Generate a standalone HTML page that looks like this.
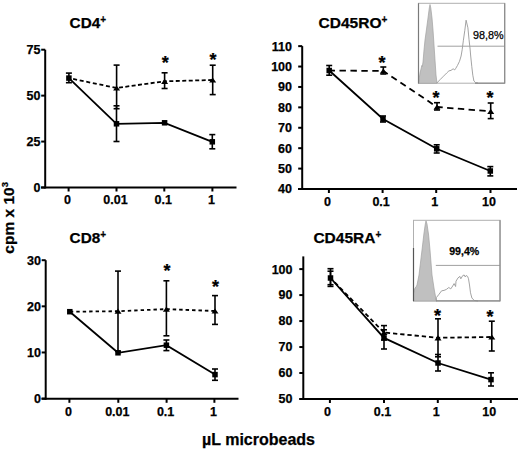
<!DOCTYPE html><html><head><meta charset="utf-8"><style>html,body{margin:0;padding:0;background:#fff;}svg{display:block;}text{font-family:"Liberation Sans",sans-serif;fill:#000;stroke:#000;stroke-width:0.25px;}</style></head><body>
<svg width="520" height="450" viewBox="0 0 520 450">
<rect width="520" height="450" fill="#fff"/>
<line x1="45.20" y1="49.70" x2="45.20" y2="188.50" stroke="#000" stroke-width="2"/>
<line x1="41.00" y1="187.50" x2="236.50" y2="187.50" stroke="#000" stroke-width="2"/>
<line x1="41.20" y1="187.50" x2="45.20" y2="187.50" stroke="#000" stroke-width="2"/>
<text x="40.50" y="191.90" font-size="12.5" text-anchor="end" font-weight="bold">0</text>
<line x1="41.20" y1="141.57" x2="45.20" y2="141.57" stroke="#000" stroke-width="2"/>
<text x="40.50" y="145.97" font-size="12.5" text-anchor="end" font-weight="bold">25</text>
<line x1="41.20" y1="95.63" x2="45.20" y2="95.63" stroke="#000" stroke-width="2"/>
<text x="40.50" y="100.03" font-size="12.5" text-anchor="end" font-weight="bold">50</text>
<line x1="41.20" y1="49.70" x2="45.20" y2="49.70" stroke="#000" stroke-width="2"/>
<text x="40.50" y="54.10" font-size="12.5" text-anchor="end" font-weight="bold">75</text>
<line x1="68.60" y1="187.50" x2="68.60" y2="191.50" stroke="#000" stroke-width="2"/>
<text x="67.60" y="204.00" font-size="12.5" text-anchor="middle" font-weight="bold">0</text>
<line x1="116.50" y1="187.50" x2="116.50" y2="191.50" stroke="#000" stroke-width="2"/>
<text x="115.50" y="204.00" font-size="12.5" text-anchor="middle" font-weight="bold">0.01</text>
<line x1="164.30" y1="187.50" x2="164.30" y2="191.50" stroke="#000" stroke-width="2"/>
<text x="163.30" y="204.00" font-size="12.5" text-anchor="middle" font-weight="bold">0.1</text>
<line x1="212.40" y1="187.50" x2="212.40" y2="191.50" stroke="#000" stroke-width="2"/>
<text x="211.40" y="204.00" font-size="12.5" text-anchor="middle" font-weight="bold">1</text>
<text x="69.60" y="27.60" font-size="15.3" text-anchor="start" font-weight="bold">CD4<tspan font-size="10" dy="-4.6">+</tspan></text>
<line x1="68.90" y1="78.10" x2="116.60" y2="88.00" stroke="#000" stroke-width="1.8" stroke-dasharray="4.0 2.70" stroke-dashoffset="2.37"/>
<line x1="116.60" y1="88.00" x2="164.60" y2="81.30" stroke="#000" stroke-width="1.8" stroke-dasharray="4.0 2.40" stroke-dashoffset="4.01"/>
<line x1="164.60" y1="81.30" x2="212.70" y2="80.00" stroke="#000" stroke-width="1.8" stroke-dasharray="4.0 2.48" stroke-dashoffset="1.78"/>
<polyline points="68.90,78.10 116.50,123.80 164.60,122.80 212.30,141.80" fill="none" stroke="#000" stroke-width="1.8"/>
<line x1="116.60" y1="65.10" x2="116.60" y2="108.70" stroke="#000" stroke-width="1.6"/>
<line x1="113.60" y1="65.10" x2="119.60" y2="65.10" stroke="#000" stroke-width="1.6"/>
<line x1="113.60" y1="108.70" x2="119.60" y2="108.70" stroke="#000" stroke-width="1.6"/>
<line x1="164.60" y1="72.80" x2="164.60" y2="88.50" stroke="#000" stroke-width="1.6"/>
<line x1="161.60" y1="72.80" x2="167.60" y2="72.80" stroke="#000" stroke-width="1.6"/>
<line x1="161.60" y1="88.50" x2="167.60" y2="88.50" stroke="#000" stroke-width="1.6"/>
<line x1="212.70" y1="65.20" x2="212.70" y2="94.60" stroke="#000" stroke-width="1.6"/>
<line x1="209.70" y1="65.20" x2="215.70" y2="65.20" stroke="#000" stroke-width="1.6"/>
<line x1="209.70" y1="94.60" x2="215.70" y2="94.60" stroke="#000" stroke-width="1.6"/>
<line x1="116.50" y1="105.80" x2="116.50" y2="141.50" stroke="#000" stroke-width="1.6"/>
<line x1="113.50" y1="105.80" x2="119.50" y2="105.80" stroke="#000" stroke-width="1.6"/>
<line x1="113.50" y1="141.50" x2="119.50" y2="141.50" stroke="#000" stroke-width="1.6"/>
<line x1="212.30" y1="134.60" x2="212.30" y2="148.80" stroke="#000" stroke-width="1.6"/>
<line x1="209.30" y1="134.60" x2="215.30" y2="134.60" stroke="#000" stroke-width="1.6"/>
<line x1="209.30" y1="148.80" x2="215.30" y2="148.80" stroke="#000" stroke-width="1.6"/>
<line x1="68.90" y1="73.10" x2="68.90" y2="82.70" stroke="#000" stroke-width="1.6"/>
<line x1="65.90" y1="73.10" x2="71.90" y2="73.10" stroke="#000" stroke-width="1.6"/>
<line x1="65.90" y1="82.70" x2="71.90" y2="82.70" stroke="#000" stroke-width="1.6"/>
<polygon points="113.10,90.60 120.10,90.60 116.60,85.40" fill="#000"/>
<polygon points="161.10,83.90 168.10,83.90 164.60,78.70" fill="#000"/>
<polygon points="209.20,82.60 216.20,82.60 212.70,77.40" fill="#000"/>
<rect x="66.15" y="75.35" width="5.5" height="5.5" fill="#000"/>
<rect x="113.75" y="121.05" width="5.5" height="5.5" fill="#000"/>
<rect x="161.85" y="120.05" width="5.5" height="5.5" fill="#000"/>
<rect x="209.55" y="139.05" width="5.5" height="5.5" fill="#000"/>
<text x="165.30" y="69.34" font-size="18" text-anchor="middle" font-weight="bold">*</text>
<text x="213.10" y="65.54" font-size="18" text-anchor="middle" font-weight="bold">*</text>
<line x1="302.20" y1="46.10" x2="302.20" y2="190.00" stroke="#000" stroke-width="2"/>
<line x1="298.00" y1="189.00" x2="517.00" y2="189.00" stroke="#000" stroke-width="2"/>
<line x1="298.20" y1="189.00" x2="302.20" y2="189.00" stroke="#000" stroke-width="2"/>
<text x="292.00" y="193.40" font-size="12.5" text-anchor="end" font-weight="bold">40</text>
<line x1="298.20" y1="168.59" x2="302.20" y2="168.59" stroke="#000" stroke-width="2"/>
<text x="292.00" y="172.99" font-size="12.5" text-anchor="end" font-weight="bold">50</text>
<line x1="298.20" y1="148.18" x2="302.20" y2="148.18" stroke="#000" stroke-width="2"/>
<text x="292.00" y="152.58" font-size="12.5" text-anchor="end" font-weight="bold">60</text>
<line x1="298.20" y1="127.77" x2="302.20" y2="127.77" stroke="#000" stroke-width="2"/>
<text x="292.00" y="132.17" font-size="12.5" text-anchor="end" font-weight="bold">70</text>
<line x1="298.20" y1="107.36" x2="302.20" y2="107.36" stroke="#000" stroke-width="2"/>
<text x="292.00" y="111.76" font-size="12.5" text-anchor="end" font-weight="bold">80</text>
<line x1="298.20" y1="86.95" x2="302.20" y2="86.95" stroke="#000" stroke-width="2"/>
<text x="292.00" y="91.35" font-size="12.5" text-anchor="end" font-weight="bold">90</text>
<line x1="298.20" y1="66.54" x2="302.20" y2="66.54" stroke="#000" stroke-width="2"/>
<text x="292.00" y="70.94" font-size="12.5" text-anchor="end" font-weight="bold">100</text>
<line x1="298.20" y1="46.13" x2="302.20" y2="46.13" stroke="#000" stroke-width="2"/>
<text x="292.00" y="50.53" font-size="12.5" text-anchor="end" font-weight="bold">110</text>
<line x1="328.90" y1="189.00" x2="328.90" y2="193.00" stroke="#000" stroke-width="2"/>
<text x="327.40" y="205.50" font-size="12.5" text-anchor="middle" font-weight="bold">0</text>
<line x1="382.60" y1="189.00" x2="382.60" y2="193.00" stroke="#000" stroke-width="2"/>
<text x="381.10" y="205.50" font-size="12.5" text-anchor="middle" font-weight="bold">0.1</text>
<line x1="436.20" y1="189.00" x2="436.20" y2="193.00" stroke="#000" stroke-width="2"/>
<text x="434.70" y="205.50" font-size="12.5" text-anchor="middle" font-weight="bold">1</text>
<line x1="490.50" y1="189.00" x2="490.50" y2="193.00" stroke="#000" stroke-width="2"/>
<text x="489.00" y="205.50" font-size="12.5" text-anchor="middle" font-weight="bold">10</text>
<text x="318.60" y="28.00" font-size="15.5" text-anchor="start" font-weight="bold">CD45RO<tspan font-size="10" dy="-4.6">+</tspan></text>
<line x1="329.20" y1="70.50" x2="383.30" y2="71.00" stroke="#000" stroke-width="1.8" stroke-dasharray="6.4 4.53" stroke-dashoffset="0.63"/>
<line x1="383.30" y1="71.00" x2="437.00" y2="107.00" stroke="#000" stroke-width="1.8" stroke-dasharray="6.4 4.45" stroke-dashoffset="1.10"/>
<line x1="437.00" y1="107.00" x2="490.70" y2="111.30" stroke="#000" stroke-width="1.8" stroke-dasharray="6.4 4.37" stroke-dashoffset="0.64"/>
<polyline points="329.20,70.50 383.00,119.00 436.70,148.80 490.30,171.00" fill="none" stroke="#000" stroke-width="1.8"/>
<line x1="329.20" y1="65.50" x2="329.20" y2="75.20" stroke="#000" stroke-width="1.6"/>
<line x1="326.20" y1="65.50" x2="332.20" y2="65.50" stroke="#000" stroke-width="1.6"/>
<line x1="326.20" y1="75.20" x2="332.20" y2="75.20" stroke="#000" stroke-width="1.6"/>
<line x1="383.30" y1="67.00" x2="383.30" y2="74.00" stroke="#000" stroke-width="1.6"/>
<line x1="380.30" y1="67.00" x2="386.30" y2="67.00" stroke="#000" stroke-width="1.6"/>
<line x1="380.30" y1="74.00" x2="386.30" y2="74.00" stroke="#000" stroke-width="1.6"/>
<line x1="437.00" y1="102.70" x2="437.00" y2="110.00" stroke="#000" stroke-width="1.6"/>
<line x1="434.00" y1="102.70" x2="440.00" y2="102.70" stroke="#000" stroke-width="1.6"/>
<line x1="434.00" y1="110.00" x2="440.00" y2="110.00" stroke="#000" stroke-width="1.6"/>
<line x1="490.70" y1="103.00" x2="490.70" y2="118.60" stroke="#000" stroke-width="1.6"/>
<line x1="487.70" y1="103.00" x2="493.70" y2="103.00" stroke="#000" stroke-width="1.6"/>
<line x1="487.70" y1="118.60" x2="493.70" y2="118.60" stroke="#000" stroke-width="1.6"/>
<line x1="383.00" y1="116.00" x2="383.00" y2="122.00" stroke="#000" stroke-width="1.6"/>
<line x1="380.00" y1="116.00" x2="386.00" y2="116.00" stroke="#000" stroke-width="1.6"/>
<line x1="380.00" y1="122.00" x2="386.00" y2="122.00" stroke="#000" stroke-width="1.6"/>
<line x1="436.70" y1="144.80" x2="436.70" y2="153.00" stroke="#000" stroke-width="1.6"/>
<line x1="433.70" y1="144.80" x2="439.70" y2="144.80" stroke="#000" stroke-width="1.6"/>
<line x1="433.70" y1="153.00" x2="439.70" y2="153.00" stroke="#000" stroke-width="1.6"/>
<line x1="490.30" y1="166.60" x2="490.30" y2="175.90" stroke="#000" stroke-width="1.6"/>
<line x1="487.30" y1="166.60" x2="493.30" y2="166.60" stroke="#000" stroke-width="1.6"/>
<line x1="487.30" y1="175.90" x2="493.30" y2="175.90" stroke="#000" stroke-width="1.6"/>
<polygon points="379.80,73.60 386.80,73.60 383.30,68.40" fill="#000"/>
<polygon points="433.50,109.60 440.50,109.60 437.00,104.40" fill="#000"/>
<polygon points="487.20,113.90 494.20,113.90 490.70,108.70" fill="#000"/>
<rect x="326.45" y="67.75" width="5.5" height="5.5" fill="#000"/>
<rect x="380.25" y="116.25" width="5.5" height="5.5" fill="#000"/>
<rect x="433.95" y="146.05" width="5.5" height="5.5" fill="#000"/>
<rect x="487.55" y="168.25" width="5.5" height="5.5" fill="#000"/>
<text x="382.00" y="69.04" font-size="18" text-anchor="middle" font-weight="bold">*</text>
<text x="436.00" y="103.54" font-size="18" text-anchor="middle" font-weight="bold">*</text>
<text x="490.00" y="104.04" font-size="18" text-anchor="middle" font-weight="bold">*</text>
<line x1="45.70" y1="260.20" x2="45.70" y2="399.80" stroke="#000" stroke-width="2"/>
<line x1="41.50" y1="398.80" x2="238.50" y2="398.80" stroke="#000" stroke-width="2"/>
<line x1="41.70" y1="398.60" x2="45.70" y2="398.60" stroke="#000" stroke-width="2"/>
<text x="41.00" y="403.00" font-size="12.5" text-anchor="end" font-weight="bold">0</text>
<line x1="41.70" y1="352.47" x2="45.70" y2="352.47" stroke="#000" stroke-width="2"/>
<text x="41.00" y="356.87" font-size="12.5" text-anchor="end" font-weight="bold">10</text>
<line x1="41.70" y1="306.33" x2="45.70" y2="306.33" stroke="#000" stroke-width="2"/>
<text x="41.00" y="310.73" font-size="12.5" text-anchor="end" font-weight="bold">20</text>
<line x1="41.70" y1="260.20" x2="45.70" y2="260.20" stroke="#000" stroke-width="2"/>
<text x="41.00" y="264.60" font-size="12.5" text-anchor="end" font-weight="bold">30</text>
<line x1="69.40" y1="398.80" x2="69.40" y2="402.80" stroke="#000" stroke-width="2"/>
<text x="68.40" y="415.70" font-size="12.5" text-anchor="middle" font-weight="bold">0</text>
<line x1="118.30" y1="398.80" x2="118.30" y2="402.80" stroke="#000" stroke-width="2"/>
<text x="117.30" y="415.70" font-size="12.5" text-anchor="middle" font-weight="bold">0.01</text>
<line x1="166.60" y1="398.80" x2="166.60" y2="402.80" stroke="#000" stroke-width="2"/>
<text x="165.60" y="415.70" font-size="12.5" text-anchor="middle" font-weight="bold">0.1</text>
<line x1="214.40" y1="398.80" x2="214.40" y2="402.80" stroke="#000" stroke-width="2"/>
<text x="213.40" y="415.70" font-size="12.5" text-anchor="middle" font-weight="bold">1</text>
<text x="69.60" y="242.70" font-size="15.3" text-anchor="start" font-weight="bold">CD8<tspan font-size="10" dy="-4.6">+</tspan></text>
<line x1="69.80" y1="311.70" x2="118.00" y2="311.20" stroke="#000" stroke-width="1.8" stroke-dasharray="3.4 3.04" stroke-dashoffset="6.38"/>
<line x1="118.00" y1="311.20" x2="166.40" y2="309.10" stroke="#000" stroke-width="1.8" stroke-dasharray="3.4 3.02" stroke-dashoffset="3.02"/>
<line x1="166.40" y1="309.10" x2="215.00" y2="311.00" stroke="#000" stroke-width="1.8" stroke-dasharray="3.5 2.94" stroke-dashoffset="0.14"/>
<polyline points="69.80,311.70 118.00,352.80 166.40,345.20 215.00,374.60" fill="none" stroke="#000" stroke-width="1.8"/>
<line x1="118.00" y1="271.10" x2="118.00" y2="351.30" stroke="#000" stroke-width="1.6"/>
<line x1="115.00" y1="271.10" x2="121.00" y2="271.10" stroke="#000" stroke-width="1.6"/>
<line x1="115.00" y1="351.30" x2="121.00" y2="351.30" stroke="#000" stroke-width="1.6"/>
<line x1="166.40" y1="280.80" x2="166.40" y2="335.80" stroke="#000" stroke-width="1.6"/>
<line x1="163.40" y1="280.80" x2="169.40" y2="280.80" stroke="#000" stroke-width="1.6"/>
<line x1="163.40" y1="335.80" x2="169.40" y2="335.80" stroke="#000" stroke-width="1.6"/>
<line x1="215.00" y1="295.60" x2="215.00" y2="324.40" stroke="#000" stroke-width="1.6"/>
<line x1="212.00" y1="295.60" x2="218.00" y2="295.60" stroke="#000" stroke-width="1.6"/>
<line x1="212.00" y1="324.40" x2="218.00" y2="324.40" stroke="#000" stroke-width="1.6"/>
<line x1="166.40" y1="340.00" x2="166.40" y2="350.60" stroke="#000" stroke-width="1.6"/>
<line x1="163.40" y1="340.00" x2="169.40" y2="340.00" stroke="#000" stroke-width="1.6"/>
<line x1="163.40" y1="350.60" x2="169.40" y2="350.60" stroke="#000" stroke-width="1.6"/>
<line x1="215.00" y1="369.00" x2="215.00" y2="380.30" stroke="#000" stroke-width="1.6"/>
<line x1="212.00" y1="369.00" x2="218.00" y2="369.00" stroke="#000" stroke-width="1.6"/>
<line x1="212.00" y1="380.30" x2="218.00" y2="380.30" stroke="#000" stroke-width="1.6"/>
<polygon points="114.50,313.80 121.50,313.80 118.00,308.60" fill="#000"/>
<polygon points="162.90,311.70 169.90,311.70 166.40,306.50" fill="#000"/>
<polygon points="211.50,313.60 218.50,313.60 215.00,308.40" fill="#000"/>
<rect x="67.05" y="308.95" width="5.5" height="5.5" fill="#000"/>
<rect x="115.25" y="350.05" width="5.5" height="5.5" fill="#000"/>
<rect x="163.65" y="342.45" width="5.5" height="5.5" fill="#000"/>
<rect x="212.25" y="371.85" width="5.5" height="5.5" fill="#000"/>
<text x="167.00" y="277.34" font-size="18" text-anchor="middle" font-weight="bold">*</text>
<text x="215.50" y="292.64" font-size="18" text-anchor="middle" font-weight="bold">*</text>
<line x1="303.30" y1="256.40" x2="303.30" y2="400.00" stroke="#000" stroke-width="2"/>
<line x1="299.50" y1="399.00" x2="518.00" y2="399.00" stroke="#000" stroke-width="2"/>
<line x1="299.30" y1="399.00" x2="303.30" y2="399.00" stroke="#000" stroke-width="2"/>
<text x="292.50" y="403.40" font-size="12.5" text-anchor="end" font-weight="bold">50</text>
<line x1="299.30" y1="373.02" x2="303.30" y2="373.02" stroke="#000" stroke-width="2"/>
<text x="292.50" y="377.42" font-size="12.5" text-anchor="end" font-weight="bold">60</text>
<line x1="299.30" y1="347.04" x2="303.30" y2="347.04" stroke="#000" stroke-width="2"/>
<text x="292.50" y="351.44" font-size="12.5" text-anchor="end" font-weight="bold">70</text>
<line x1="299.30" y1="321.06" x2="303.30" y2="321.06" stroke="#000" stroke-width="2"/>
<text x="292.50" y="325.46" font-size="12.5" text-anchor="end" font-weight="bold">80</text>
<line x1="299.30" y1="295.08" x2="303.30" y2="295.08" stroke="#000" stroke-width="2"/>
<text x="292.50" y="299.48" font-size="12.5" text-anchor="end" font-weight="bold">90</text>
<line x1="299.30" y1="269.10" x2="303.30" y2="269.10" stroke="#000" stroke-width="2"/>
<text x="292.50" y="273.50" font-size="12.5" text-anchor="end" font-weight="bold">100</text>
<line x1="329.90" y1="399.00" x2="329.90" y2="403.00" stroke="#000" stroke-width="2"/>
<text x="327.60" y="416.20" font-size="12.5" text-anchor="middle" font-weight="bold">0</text>
<line x1="384.00" y1="399.00" x2="384.00" y2="403.00" stroke="#000" stroke-width="2"/>
<text x="382.50" y="416.20" font-size="12.5" text-anchor="middle" font-weight="bold">0.1</text>
<line x1="437.80" y1="399.00" x2="437.80" y2="403.00" stroke="#000" stroke-width="2"/>
<text x="436.30" y="416.20" font-size="12.5" text-anchor="middle" font-weight="bold">1</text>
<line x1="490.80" y1="399.00" x2="490.80" y2="403.00" stroke="#000" stroke-width="2"/>
<text x="489.30" y="416.20" font-size="12.5" text-anchor="middle" font-weight="bold">10</text>
<text x="313.40" y="242.90" font-size="15.5" text-anchor="start" font-weight="bold">CD45RA<tspan font-size="10" dy="-4.6">+</tspan></text>
<line x1="330.50" y1="278.00" x2="384.00" y2="332.50" stroke="#000" stroke-width="1.8" stroke-dasharray="4.3 3.00" stroke-dashoffset="1.20"/>
<line x1="384.00" y1="332.50" x2="438.00" y2="337.80" stroke="#000" stroke-width="1.8" stroke-dasharray="4.3 2.93" stroke-dashoffset="5.41"/>
<line x1="438.00" y1="337.80" x2="491.80" y2="337.00" stroke="#000" stroke-width="1.8" stroke-dasharray="4.3 2.88" stroke-dashoffset="2.08"/>
<polyline points="330.50,278.00 384.00,337.90 438.00,363.00 491.00,379.60" fill="none" stroke="#000" stroke-width="1.8"/>
<line x1="330.50" y1="268.70" x2="330.50" y2="286.40" stroke="#000" stroke-width="1.6"/>
<line x1="327.50" y1="268.70" x2="333.50" y2="268.70" stroke="#000" stroke-width="1.6"/>
<line x1="327.50" y1="286.40" x2="333.50" y2="286.40" stroke="#000" stroke-width="1.6"/>
<line x1="330.50" y1="271.20" x2="330.50" y2="284.70" stroke="#000" stroke-width="1.6"/>
<line x1="327.50" y1="271.20" x2="333.50" y2="271.20" stroke="#000" stroke-width="1.6"/>
<line x1="327.50" y1="284.70" x2="333.50" y2="284.70" stroke="#000" stroke-width="1.6"/>
<line x1="384.00" y1="325.60" x2="384.00" y2="340.00" stroke="#000" stroke-width="1.6"/>
<line x1="381.00" y1="325.60" x2="387.00" y2="325.60" stroke="#000" stroke-width="1.6"/>
<line x1="381.00" y1="340.00" x2="387.00" y2="340.00" stroke="#000" stroke-width="1.6"/>
<line x1="384.00" y1="329.80" x2="384.00" y2="349.00" stroke="#000" stroke-width="1.6"/>
<line x1="381.00" y1="329.80" x2="387.00" y2="329.80" stroke="#000" stroke-width="1.6"/>
<line x1="381.00" y1="349.00" x2="387.00" y2="349.00" stroke="#000" stroke-width="1.6"/>
<line x1="438.00" y1="318.80" x2="438.00" y2="356.80" stroke="#000" stroke-width="1.6"/>
<line x1="435.00" y1="318.80" x2="441.00" y2="318.80" stroke="#000" stroke-width="1.6"/>
<line x1="435.00" y1="356.80" x2="441.00" y2="356.80" stroke="#000" stroke-width="1.6"/>
<line x1="438.00" y1="354.50" x2="438.00" y2="371.00" stroke="#000" stroke-width="1.6"/>
<line x1="435.00" y1="354.50" x2="441.00" y2="354.50" stroke="#000" stroke-width="1.6"/>
<line x1="435.00" y1="371.00" x2="441.00" y2="371.00" stroke="#000" stroke-width="1.6"/>
<line x1="491.80" y1="321.20" x2="491.80" y2="351.00" stroke="#000" stroke-width="1.6"/>
<line x1="488.80" y1="321.20" x2="494.80" y2="321.20" stroke="#000" stroke-width="1.6"/>
<line x1="488.80" y1="351.00" x2="494.80" y2="351.00" stroke="#000" stroke-width="1.6"/>
<line x1="491.00" y1="372.80" x2="491.00" y2="386.00" stroke="#000" stroke-width="1.6"/>
<line x1="488.00" y1="372.80" x2="494.00" y2="372.80" stroke="#000" stroke-width="1.6"/>
<line x1="488.00" y1="386.00" x2="494.00" y2="386.00" stroke="#000" stroke-width="1.6"/>
<polygon points="380.50,335.10 387.50,335.10 384.00,329.90" fill="#000"/>
<polygon points="434.50,340.40 441.50,340.40 438.00,335.20" fill="#000"/>
<polygon points="488.30,339.60 495.30,339.60 491.80,334.40" fill="#000"/>
<rect x="327.75" y="275.25" width="5.5" height="5.5" fill="#000"/>
<rect x="381.25" y="335.15" width="5.5" height="5.5" fill="#000"/>
<rect x="435.25" y="360.25" width="5.5" height="5.5" fill="#000"/>
<rect x="488.25" y="376.85" width="5.5" height="5.5" fill="#000"/>
<text x="437.60" y="321.54" font-size="18" text-anchor="middle" font-weight="bold">*</text>
<text x="490.00" y="322.54" font-size="18" text-anchor="middle" font-weight="bold">*</text>
<g>
<rect x="418.5" y="3.3" width="86.2" height="79.9" fill="#fff" stroke="#b0b0b0" stroke-width="1"/>
<path d="M418.5,83.3 L419,80 L420,73 L421,69 L421.8,65.5 L422.3,66.5 L423,62 L424,50 L425,40 L426.4,30 L428,18 L429.3,8 L430,4.5 L430.8,8 L432,18 L433,30 L434,45 L435,60 L436,75 L437,83.3 Z" fill="#c0c0c0" stroke="#a0a0a0" stroke-width="0.7"/>
<path d="M437,83 L437.7,82.1 L440.3,79.4 L443.5,76.2 L446.7,73 L448.9,70.9 L451,70.4 L453.1,68.8 L454.7,69.9 L455.8,68.3 L457.4,65.6 L459.5,61.3 L461.1,56 L462.2,49.6 L463.4,40.2 L464.8,30.4 L466.1,20.2 L467.9,27.8 L469,39.3 L470.1,49.1 L470.7,56 L471.8,66.7 L472.8,75.2 L473.9,81 L475.5,82.6 L478,83" fill="none" stroke="#999" stroke-width="0.9"/>
<line x1="437.5" y1="46.2" x2="504.5" y2="46.2" stroke="#a0a0a0" stroke-width="1"/>
<line x1="418.5" y1="3.3" x2="418.5" y2="83.5" stroke="#7a7a7a" stroke-width="1.2"/>
<line x1="504.7" y1="3.3" x2="504.7" y2="83.5" stroke="#8a8a8a" stroke-width="1.2"/>
<line x1="475" y1="83.2" x2="504.7" y2="83.2" stroke="#8a8a8a" stroke-width="1.2"/>
<text x="488.30" y="38.80" font-size="10.8" text-anchor="middle" font-weight="normal">98,8%</text>
</g>
<g>
<rect x="413.5" y="220.3" width="86.6" height="80.7" fill="#fff" stroke="#b0b0b0" stroke-width="1"/>
<path d="M413.5,301 L413.5,293 L415,288 L416,287 L417,285 L419,275 L422,250 L424,233 L425.3,224 L426,220.8 L427,224 L428.6,235 L430,250 L432,275 L434.3,290 L435.6,297 L436.8,301 Z" fill="#c0c0c0" stroke="#a0a0a0" stroke-width="0.7"/>
<path d="M436,300.5 L436.3,297.6 L438.7,294.7 L441.6,290.8 L444,290.4 L446.4,289.4 L448.8,287.5 L450.75,288.9 L452.7,286 L454.1,283.6 L455.6,286.5 L456,281.2 L458,277.9 L459.9,276.4 L460.8,278.8 L462.8,275.5 L464.2,275 L465.2,276.9 L466.1,275.5 L467.6,276.4 L468.5,278.8 L469.5,285 L470.5,292.8 L471.9,298 L474.3,300.5 L478,301" fill="none" stroke="#999" stroke-width="0.9"/>
<line x1="435.8" y1="265.4" x2="500" y2="265.4" stroke="#a0a0a0" stroke-width="1"/>
<line x1="413.5" y1="248" x2="413.5" y2="301.2" stroke="#555" stroke-width="1.2"/>
<line x1="500" y1="220.3" x2="500" y2="301.2" stroke="#8a8a8a" stroke-width="1.2"/>
<line x1="436" y1="300.9" x2="500" y2="300.9" stroke="#8a8a8a" stroke-width="1.2"/>
<text x="464.20" y="255.30" font-size="10.6" text-anchor="middle" font-weight="bold">99,4%</text>
</g>
<text x="0.00" y="0.00" font-size="15.5" text-anchor="start" font-weight="bold" transform="translate(14.4,253.7) rotate(-90)">cpm x 10<tspan font-size="9.5" dy="-6.2">3</tspan></text>
<text x="258.50" y="444.60" font-size="16" text-anchor="middle" font-weight="bold">µL microbeads</text>
</svg></body></html>
